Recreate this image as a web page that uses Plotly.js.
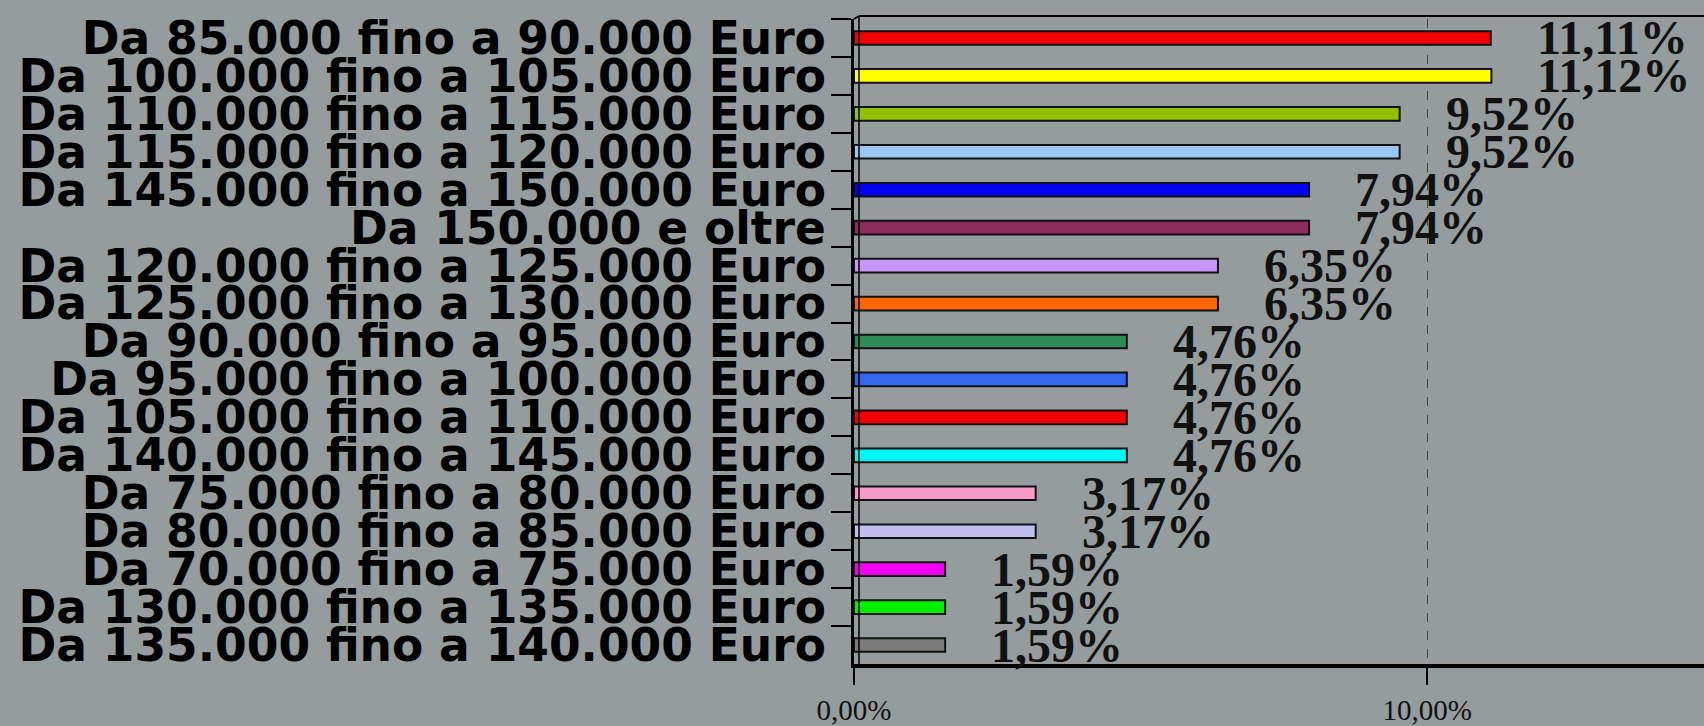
<!DOCTYPE html>
<html>
<head>
<meta charset="utf-8">
<script src="https://cdn.plot.ly/plotly-3.0.1.min.js"></script>
<style>
  html, body { margin: 0; padding: 0; background: #949c9d; }
  #chart { width: 1704px; height: 726px; }
</style>
</head>
<body>
<div id="chart"></div>
<script>
// Categories, top to bottom
const categories = [
  "Da 85.000 fino a 90.000 Euro",
  "Da 100.000 fino a 105.000 Euro",
  "Da 110.000 fino a 115.000 Euro",
  "Da 115.000 fino a 120.000 Euro",
  "Da 145.000 fino a 150.000 Euro",
  "Da 150.000 e oltre",
  "Da 120.000 fino a 125.000 Euro",
  "Da 125.000 fino a 130.000 Euro",
  "Da 90.000 fino a 95.000 Euro",
  "Da 95.000 fino a 100.000 Euro",
  "Da 105.000 fino a 110.000 Euro",
  "Da 140.000 fino a 145.000 Euro",
  "Da 75.000 fino a 80.000 Euro",
  "Da 80.000 fino a 85.000 Euro",
  "Da 70.000 fino a 75.000 Euro",
  "Da 130.000 fino a 135.000 Euro",
  "Da 135.000 fino a 140.000 Euro"
];
// Percent values
const values = [11.11, 11.12, 9.52, 9.52, 7.94, 7.94, 6.35, 6.35, 4.76, 4.76, 4.76, 4.76, 3.17, 3.17, 1.59, 1.59, 1.59];
// Bar colours
const colors = [
  "#f00000", "#ffff00", "#90c000", "#99c8f5", "#0000f0", "#8b2c5c",
  "#c896f8", "#ff6600", "#2e8b57", "#3366ee", "#f20000", "#00f8f8",
  "#f79ac8", "#c0c0f0", "#f000f0", "#00f000", "#7a7a7a"
];
// Axis tick values
const xTicks = [0, 10];

function fmtPct(v) { return v.toFixed(2).replace('.', ',') + '%'; }

const trace = {
  type: 'bar',
  orientation: 'h',
  x: values,
  y: categories,
  width: 0.36,
  marker: { color: colors, line: { color: '#111111', width: 2 } },
  hoverinfo: 'x+y'
};

const annotations = values.map((v, i) => ({
  x: v, y: categories[i], xref: 'x', yref: 'y',
  text: fmtPct(v), showarrow: false,
  xanchor: 'left', yanchor: 'middle', xshift: 44,
  font: { family: 'Liberation Serif, Times New Roman, serif', size: 48, color: '#111111', weight: 'bold' }
}));

const plotH = 645, plotW = 850;
const depthX = 5 / plotW, depthY = 3 / plotH;

const layout = {
  width: 1704, height: 726,
  margin: { l: 854, r: 0, t: 19, b: 62, pad: 0 },
  paper_bgcolor: '#949c9d',
  plot_bgcolor: '#949c9d',
  separators: ',.',
  showlegend: false,
  xaxis: {
    range: [0, 14.83],
    tickmode: 'array',
    tickvals: xTicks,
    ticktext: xTicks.map(fmtPct),
    showgrid: true,
    gridcolor: '#444444',
    griddash: 'dash',
    gridwidth: 1,
    zeroline: false,
    showline: true,
    linecolor: '#000000',
    linewidth: 4,
    ticks: 'outside',
    ticklen: 17,
    tickwidth: 2,
    tickcolor: '#000000',
    tickfont: { family: 'Liberation Serif, Times New Roman, serif', size: 29, color: '#111111' },
    fixedrange: true
  },
  yaxis: {
    type: 'category',
    categoryorder: 'array',
    categoryarray: categories,
    range: [categories.length - 0.5, -0.5],
    tickmode: 'linear',
    tick0: 0,
    dtick: 1,
    tickson: 'boundaries',
    ticks: 'outside',
    ticklen: 20,
    tickwidth: 2,
    tickcolor: '#000000',
    showline: true,
    linecolor: '#000000',
    linewidth: 3,
    showgrid: false,
    ticklabelstandoff: 16,
    tickfont: { family: 'DejaVu Sans, sans-serif', size: 45.5, color: '#000000', weight: 'bold' },
    fixedrange: true
  },
  shapes: [
    // back top edge of the 3D frame
    { type: 'line', xref: 'paper', yref: 'paper', x0: depthX, x1: 1, y0: 1 + depthY, y1: 1 + depthY,
      line: { color: '#000000', width: 2 } },
    // back left wall edge
    { type: 'line', xref: 'paper', yref: 'paper', x0: depthX, x1: depthX, y0: 0, y1: 1 + depthY,
      line: { color: '#000000', width: 1.5 } },
    // corner joining front and back
    { type: 'line', xref: 'paper', yref: 'paper', x0: 0, x1: depthX, y0: 1, y1: 1 + depthY,
      line: { color: '#000000', width: 1.5 } }
  ],
  annotations: annotations
};

Plotly.newPlot('chart', [trace], layout, { displayModeBar: false, staticPlot: true });
</script>
</body>
</html>
